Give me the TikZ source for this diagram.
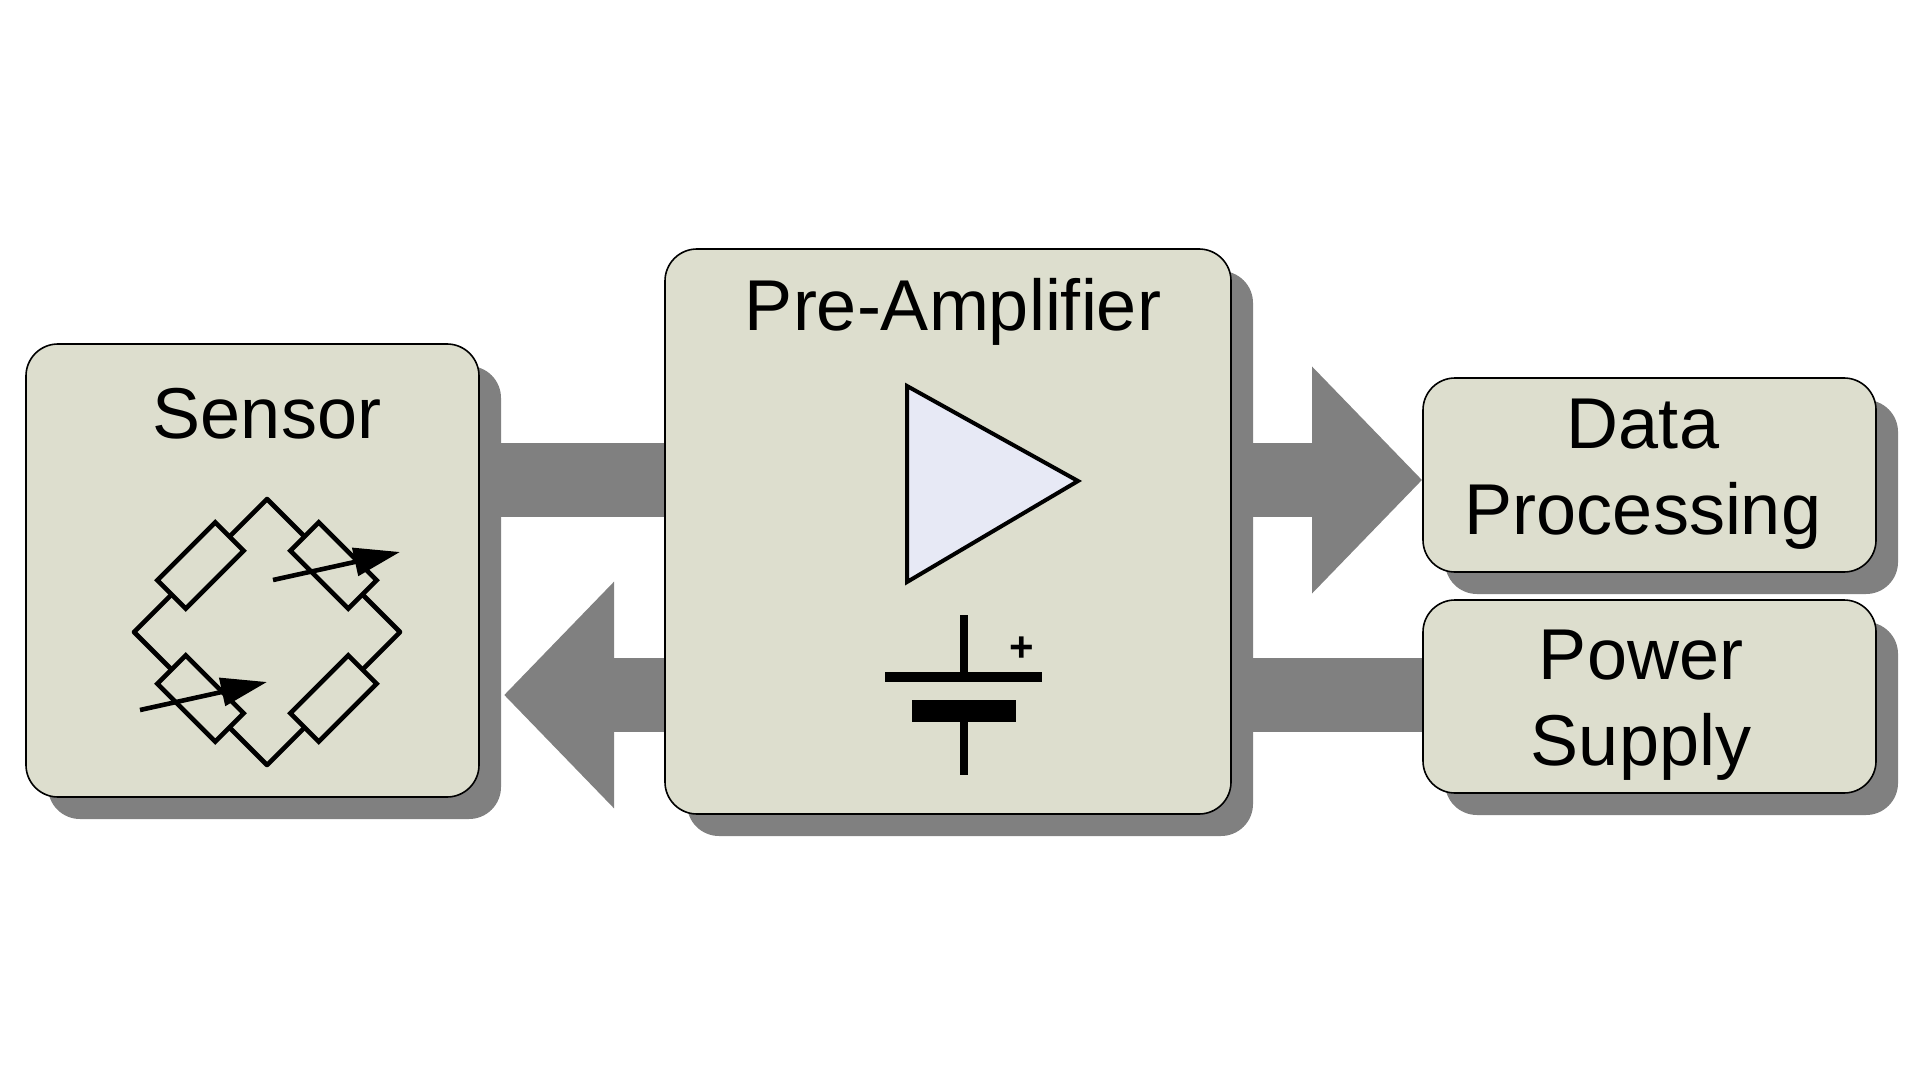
\documentclass[tikz,border=0pt]{standalone}
\usepackage{fontspec}
\setmainfont{Liberation Sans}
\usetikzlibrary{arrows.meta,shadows,backgrounds}
\definecolor{boxfill}{RGB}{221,222,206}
\definecolor{shgray}{RGB}{128,128,128}
\definecolor{ampfill}{RGB}{231,233,245}
\tikzset{
  block/.style={draw=black, line width=0.8pt, fill=boxfill, rounded corners=16pt,
    inner sep=0pt,
    general shadow={fill=shgray, shadow xshift=11pt, shadow yshift=-11pt}},
  lbl/.style={anchor=base, inner sep=0pt, font=\fontsize{36}{43}\selectfont, align=center},
  bar/.style={draw=shgray, line width=37pt},
  fatarrow/.style={draw=shgray, line width=37pt, -{Triangle[length=55pt,width=110pt]}},
  wire/.style={line width=2.3pt, line join=round},
  res/.style={draw=black, line width=2.3pt, fill=boxfill, rectangle, minimum width=41pt, minimum height=20pt, inner sep=0pt},
  varrow/.style={line width=2.3pt, -{Triangle[length=23pt,width=14pt]}},
}
\begin{document}
\begin{tikzpicture}[x=0.5pt,y=-0.5pt]
\useasboundingbox (0,0) rectangle (1920,1080);
% blocks
\node[block, minimum width=226.5pt, minimum height=226.5pt] (sensor) at (252.5,570.5) {};
\node[block, minimum width=283pt, minimum height=282.5pt] (pre) at (948,531.5) {};
\node[block, minimum width=226.5pt, minimum height=97pt] (dp) at (1649.5,475) {};
\node[block, minimum width=226.5pt, minimum height=96.5pt] (ps) at (1649.5,696.5) {};
% connector levels
\coordinate (upper) at (0,480);
\coordinate (lower) at (0,695);
\coordinate (sensh) at (504,0);
% connectors (behind blocks)
\begin{pgfonlayer}{background}
\fill[white] (0,0) rectangle (1920,1080);
\draw[bar] (sensor.east |- upper) -- (pre.west |- upper);
\draw[fatarrow] (pre.east |- upper) -- (dp.west |- upper);
\draw[fatarrow] (pre.west |- lower) -- (sensh |- lower);
\draw[bar] (pre.east |- lower) -- (ps.west |- lower);
\end{pgfonlayer}
% labels
\node[lbl] (tsensor) at (267,438) {Sensor};
\node[lbl] (tpre) at (953,331) {Pre-Amplifier};
\node[lbl] (tdp) at (1643,534) {Data\\Processing};
\node[lbl] (tps) at (1641,765) {Power\\Supply};
% bridge
\coordinate (bt) at (267,499);
\coordinate (bl) at (134,632);
\coordinate (br) at (400,632);
\coordinate (bb) at (267,765);
\draw[wire] (bt) -- (br) -- (bb) -- (bl) -- cycle;
\node[res, rotate=45] (r1) at (200.5,565.5) {};
\node[res, rotate=-45] (r2) at (333.5,565.5) {};
\node[res, rotate=-45] (r3) at (200.5,698.5) {};
\node[res, rotate=45] (r4) at (333.5,698.5) {};
\coordinate (a1s) at (273,580);
\coordinate (a1e) at (400,552);
\coordinate (a2s) at (140,710);
\coordinate (a2e) at (267,682);
\draw[varrow] (a1s) -- (a1e);
\draw[varrow] (a2s) -- (a2e);
% amplifier
\draw[line width=2pt, line join=miter, fill=ampfill] (907,386) -- (1078,481) -- (907,582) -- cycle;
% battery
\draw[line width=4pt] (964,615) -- (964,677);
\fill (885,672) rectangle (1042,682);
\fill (912,700) rectangle (1016,722);
\draw[line width=4pt] (964,722) -- (964,775);
\node[inner sep=0pt, font=\fontsize{21}{21}\selectfont\bfseries] (plus) at (1022,649) {+};
\end{tikzpicture}
\end{document}
